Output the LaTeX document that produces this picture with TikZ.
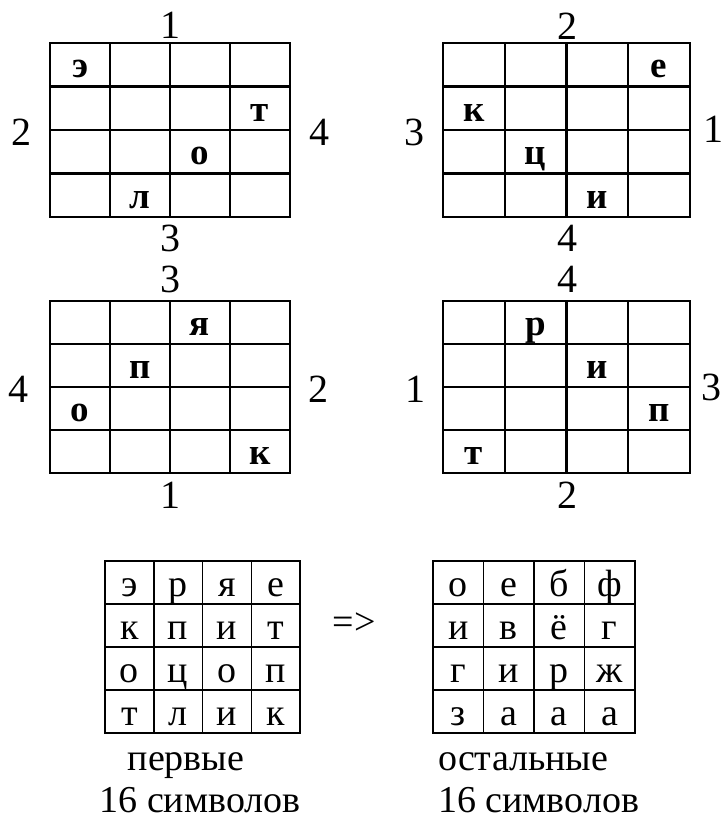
\documentclass[tikz,border=0pt]{standalone}
\usepackage{fontspec}
\setmainfont{Liberation Serif}

\begin{document}
\begin{tikzpicture}[
  x=1pt, y=1pt,
  every node/.style={font=\fontsize{38}{40}\selectfont, inner sep=0pt},
  num/.style={font=\fontsize{40}{42}\selectfont},
  thickgrid/.style={line width=2.2pt, line cap=rect},
  thingrid/.style={line width=1.5pt, line cap=rect},
  key/.style={font=\fontsize{37}{40}\selectfont\bfseries, anchor=base},
  plain/.style={anchor=base},
]
\useasboundingbox (0,0) rectangle (724,-819);

% Grille 1 (top left)
\begin{scope}[shift={(50,-217)}]
  \draw[thickgrid] (0,0) rectangle (240,174);
  \foreach \i in {1,2,3} {
    \draw[thickgrid] (\i*60,0) -- (\i*60,174);
    \draw[thickgrid] (0,\i*43.5) -- (240,\i*43.5);
  }
  \node[key] (a1) at (30,139.5) {э};
  \node[key] (a2) at (210,96) {т};
  \node[key] (a3) at (150,52.5) {о};
  \node[key] (a4) at (90,9) {л};
\end{scope}
\node[num] (aTop) at (170,-25) {1};
\node[num] (aLeft) at (21,-132) {2};
\node[num] (aRight) at (319,-132) {4};
\node[num] (aBot) at (170,-238) {3};

% Grille 2 (top right)
\begin{scope}[shift={(443,-217)}]
  \draw[thickgrid] (0,0) rectangle (247,174);
  \foreach \i in {1,2,3} {
    \draw[thickgrid] (\i*61.75,0) -- (\i*61.75,174);
    \draw[thickgrid] (0,\i*43.5) -- (247,\i*43.5);
  }
  \node[key] (b1) at (216.1,139.5) {е};
  \node[key] (b2) at (30.9,96) {к};
  \node[key] (b3) at (92.6,52.5) {ц};
  \node[key] (b4) at (154.4,9) {и};
\end{scope}
\node[num] (bTop) at (567,-26) {2};
\node[num] (bLeft) at (414,-132) {3};
\node[num] (bRight) at (713,-129) {1};
\node[num] (bBot) at (567,-238) {4};

% Grille 3 (middle left)
\begin{scope}[shift={(50,-473)}]
  \draw[thickgrid] (0,0) rectangle (240,172);
  \foreach \i in {1,2,3} {
    \draw[thickgrid] (\i*60,0) -- (\i*60,172);
    \draw[thickgrid] (0,\i*43) -- (240,\i*43);
  }
  \node[key] (c1) at (150,138) {я};
  \node[key] (c2) at (90,95) {п};
  \node[key] (c3) at (30,52) {о};
  \node[key] (c4) at (210,9) {к};
\end{scope}
\node[num] (cTop) at (170,-279) {3};
\node[num] (cLeft) at (19,-389) {4};
\node[num] (cRight) at (318,-389) {2};
\node[num] (cBot) at (170,-495) {1};

% Grille 4 (middle right)
\begin{scope}[shift={(443,-473)}]
  \draw[thickgrid] (0,0) rectangle (247,172);
  \foreach \i in {1,2,3} {
    \draw[thickgrid] (\i*61.75,0) -- (\i*61.75,172);
    \draw[thickgrid] (0,\i*43) -- (247,\i*43);
  }
  \node[key] (d1) at (92.6,138) {р};
  \node[key] (d2) at (154.4,95) {и};
  \node[key] (d3) at (216.1,52) {п};
  \node[key] (d4) at (30.9,9) {т};
\end{scope}
\node[num] (dTop) at (567,-279) {4};
\node[num] (dLeft) at (415,-389) {1};
\node[num] (dRight) at (711,-387) {3};
\node[num] (dBot) at (567,-495) {2};

% First 16 symbols
\begin{scope}[shift={(105,-733)}]
  \draw[thingrid] (0,0) rectangle (195,172);
  \foreach \i in {1,2,3} {
    \draw[thingrid] (\i*48.75,0) -- (\i*48.75,172);
    \draw[thingrid] (0,\i*43) -- (195,\i*43);
  }
  \foreach \t [count=\k from 0] in {э,р,я,е,к,п,и,т,о,ц,о,п,т,л,и,к} {
    \pgfmathtruncatemacro\cc{mod(\k,4)}
    \pgfmathtruncatemacro\rr{div(\k,4)}
    \node[plain] (f\k) at ({(\cc+0.5)*48.75},{(3-\rr)*43+8}) {\t};
  }
\end{scope}
\node[plain] (fTxt) at (186,-770) {первые};
\node[plain] (fNum) at (200,-812) {16 символов};

\node (imp) at (354,-624) {=>};

% Remaining 16 symbols
\begin{scope}[shift={(433,-733)}]
  \draw[thingrid] (0,0) rectangle (202,172);
  \foreach \i in {1,2,3} {
    \draw[thingrid] (\i*50.5,0) -- (\i*50.5,172);
    \draw[thingrid] (0,\i*43) -- (202,\i*43);
  }
  \foreach \t [count=\k from 0] in {о,е,б,ф,и,в,ё,г,г,и,р,ж,з,а,а,а} {
    \pgfmathtruncatemacro\cc{mod(\k,4)}
    \pgfmathtruncatemacro\rr{div(\k,4)}
    \node[plain] (s\k) at ({(\cc+0.5)*50.5},{(3-\rr)*43+8}) {\t};
  }
\end{scope}
\node[plain, anchor=base west] (sTxt) at (438,-770) {остальные};
\node[plain, anchor=base west] (sNum) at (438,-812) {16 символов};

\end{tikzpicture}
\end{document}
